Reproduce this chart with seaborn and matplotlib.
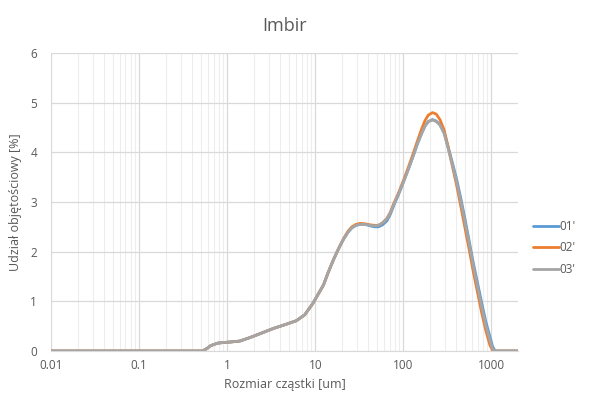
import matplotlib
matplotlib.use("Agg")
import matplotlib.pyplot as plt
import seaborn as sns
import pandas as pd
import numpy as np
from matplotlib.ticker import FixedLocator, LogLocator, NullFormatter
from matplotlib.lines import Line2D

size_um = [0.01, 0.52, 0.55, 0.6, 0.64, 0.7, 0.79, 0.9, 1.07, 1.39, 1.81, 2.45, 3.3, 4.7,
           6.1, 7.6, 9.4, 11, 12.4, 14, 16.1, 18.5, 20.9, 23.5, 26, 29, 32.4, 37, 42, 47,
           52, 58, 65, 71, 77, 88, 100, 115, 130, 145, 161, 176, 192, 214, 236, 260, 290,
           323, 360, 403, 450, 500, 560, 621, 700, 772, 860, 959, 1030, 1100, 2000]
s01 = [0, 0, 0.02, 0.06, 0.10, 0.13, 0.16, 0.17, 0.18, 0.20, 0.27, 0.36, 0.45, 0.54,
       0.61, 0.73, 0.96, 1.17, 1.33, 1.58, 1.84, 2.07, 2.25, 2.39, 2.48, 2.53, 2.55, 2.55, 2.52, 2.50,
       2.50, 2.54, 2.62, 2.75, 2.91, 3.15, 3.40, 3.68, 3.94, 4.18, 4.38, 4.53, 4.62, 4.66, 4.63, 4.56, 4.40,
       4.10, 3.79, 3.45, 3.06, 2.66, 2.20, 1.78, 1.34, 0.98, 0.60, 0.29, 0.09, 0, 0]
s02 = [0, 0, 0.02, 0.06, 0.10, 0.13, 0.16, 0.17, 0.18, 0.20, 0.27, 0.36, 0.45, 0.54,
       0.61, 0.73, 0.96, 1.17, 1.33, 1.58, 1.84, 2.07, 2.26, 2.41, 2.50, 2.55, 2.57, 2.56, 2.54, 2.53,
       2.53, 2.58, 2.67, 2.79, 2.95, 3.18, 3.43, 3.72, 3.99, 4.24, 4.47, 4.64, 4.75, 4.80, 4.77, 4.66, 4.45,
       4.10, 3.72, 3.33, 2.90, 2.48, 2.03, 1.60, 1.15, 0.78, 0.42, 0.12, 0.01, 0, 0]
s03 = [0, 0, 0.02, 0.06, 0.10, 0.13, 0.16, 0.17, 0.18, 0.20, 0.27, 0.36, 0.45, 0.54,
       0.61, 0.73, 0.96, 1.17, 1.33, 1.58, 1.84, 2.07, 2.25, 2.39, 2.48, 2.53, 2.55, 2.55, 2.53, 2.52,
       2.53, 2.58, 2.66, 2.78, 2.93, 3.16, 3.40, 3.68, 3.94, 4.18, 4.38, 4.53, 4.62, 4.65, 4.62, 4.55, 4.38,
       4.07, 3.75, 3.40, 3.00, 2.60, 2.15, 1.72, 1.27, 0.90, 0.52, 0.22, 0.04, 0, 0]
series_names = ["01'", "02'", "03'"]
x_ticks = [0.01, 0.1, 1, 10, 100, 1000]
x_tick_labels = ["0.01", "0.1", "1", "10", "100", "1000"]
y_ticks = [0, 1, 2, 3, 4, 5, 6]

df = pd.concat([
    pd.DataFrame({"size": size_um, "val": s, "series": n})
    for s, n in zip([s01, s02, s03], series_names)
])

sns.set_style("white")
plt.rcParams['font.family'] = ['Open Sans', 'DejaVu Sans']

fig = plt.figure(figsize=(6.04, 3.96), dpi=100)
ax = fig.add_axes([51/604, 1-351/396, (518-51)/604, (351-53)/396])

palette = {"01'": "#5B9BD5", "02'": "#ED7D31", "03'": "#A5A5A5"}
sns.lineplot(data=df, x="size", y="val", hue="series", palette=palette,
             linewidth=2.0, ax=ax, legend=False, sort=False)
for ln in ax.lines:
    ln.set_solid_joinstyle("round")

ax.set_xscale("log")
ax.set_xlim(0.01, 2000)
ax.set_ylim(0, 6)
ax.xaxis.set_major_locator(FixedLocator(x_ticks))
ax.set_xticklabels(x_tick_labels)
ax.xaxis.set_minor_locator(LogLocator(base=10, subs=np.arange(2, 10)))
ax.xaxis.set_minor_formatter(NullFormatter())
ax.set_yticks(y_ticks)

ax.grid(True, which="major", color="#d9d9d9", linewidth=0.9)
ax.grid(True, which="minor", axis="x", color="#ededed", linewidth=0.8)
ax.set_axisbelow(True)
for side in ["top", "right", "left"]:
    ax.spines[side].set_visible(False)
ax.spines["bottom"].set_color("#d9d9d9")
ax.tick_params(axis="both", which="both", length=0, colors="#595959", labelsize=8.5)
ax.tick_params(axis="x", pad=6)
ax.tick_params(axis="y", pad=10)

ax.set_xlabel("Rozmiar cząstki [um]", color="#595959", fontsize=9, labelpad=4)
ax.set_ylabel("Udział objętościowy [%]", color="#595959", fontsize=9, labelpad=6)
fig.text(0.5*(51+518)/604, 1-26/396, "Imbir", ha="center", va="center",
         color="#595959", fontsize=13)

handles = [Line2D([0], [0], color=palette[n], lw=2) for n in series_names]
fig.legend(handles, series_names, loc="center left", bbox_to_anchor=(522/604, 1-248/396),
           frameon=False, fontsize=8.5, labelcolor="#595959", handlelength=2.2,
           handletextpad=0.1, labelspacing=0.75)

fig.savefig("out.png", dpi=100)
